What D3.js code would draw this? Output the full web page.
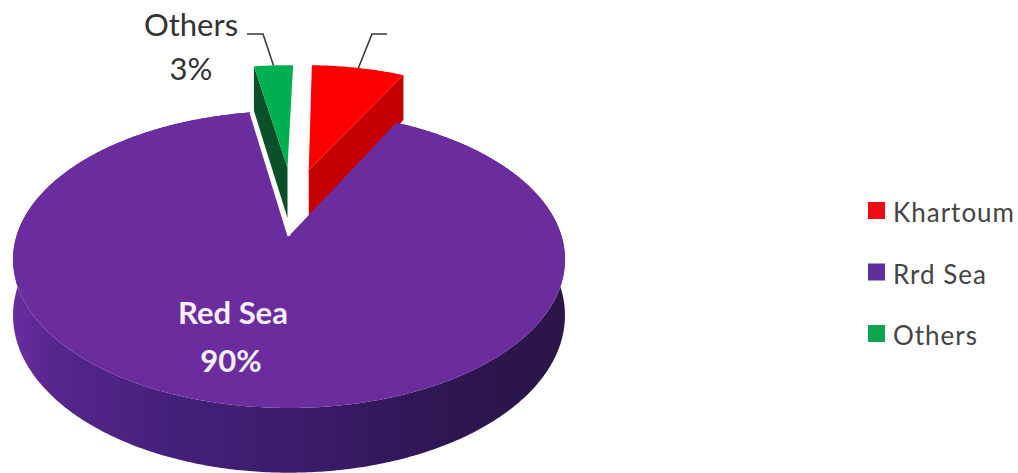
<!DOCTYPE html>
<html>
<head>
<meta charset="utf-8">
<script src="https://cdn.jsdelivr.net/npm/d3@7"></script>
<style>
  html, body { margin: 0; padding: 0; background: #fff; }
  svg { display: block; }
  text { font-family: Lato, "Open Sans", sans-serif; }
</style>
</head>
<body>
<svg id="chart" width="1018" height="473"></svg>
<script>
// Pie shares
const categories = ["Khartoum", "Rrd Sea", "Others"];
const shares = [7, 90, 3];
const colors = ["#FF0000", "#6B2C9E", "#00B050"];
const wallColors = ["#C40000", "#3F1D6E", "#0A5029"];
const legendColors = ["#F00A14", "#5F2F9E", "#0EA552"];

// Pulled-out slices: offset on the disk and radius of each wedge
const explode = new Map([
  ["Khartoum", { dx: 0.078, dy: 0.49, r: 0.96 }],
  ["Others", { dx: -0.006, dy: 0.51, r: 0.94 }],
  ["Rrd Sea", { dx: 0, dy: 0, r: 1 }]
]);

// Perspective of the tilted disk
const cx = 289, cy = 236, persp = 0.158;
const xPx = d3.scaleLinear().domain([0, 1]).range([0, 272.5]);
const yPx = d3.scaleLinear().domain([0, 1]).range([0, 144.8]);
const zPx = d3.scaleLinear().domain([0, 1]).range([0, 54.5]);

function project(X, Y, z) {
  const w = 1 + persp * Y;
  return [cx + xPx(X) / w, cy + (zPx(z) - yPx(Y)) / w];
}

const svg = d3.select("#chart");
const line = d3.line();

// Side wall shading runs left to right across the cylinder
const defs = svg.append("defs");
const wallGrad = defs.append("linearGradient")
  .attr("id", "wall").attr("gradientUnits", "userSpaceOnUse")
  .attr("x1", 13).attr("x2", 565).attr("y1", 0).attr("y2", 0);
[[0, "#6A2D9F"], [0.08, "#55268C"], [0.3, "#44207A"], [0.55, "#3A1B68"], [0.8, "#2D1650"], [1, "#2B1548"]]
  .forEach(([o, c]) => wallGrad.append("stop").attr("offset", o).attr("stop-color", c));

// Slice angles, rotated slightly clockwise from twelve o'clock
const rotate = 1.5 * Math.PI / 180;
const pie = d3.pie().sort(null)
  .startAngle(rotate).endAngle(2 * Math.PI + rotate);
const slices = pie(shares).map((d, i) => ({
  ...d, name: categories[i], color: colors[i], wall: wallColors[i], ex: explode.get(categories[i])
}));

function rimPoint(s, a, z) {
  return project(s.ex.dx + s.ex.r * Math.sin(a), s.ex.dy + s.ex.r * Math.cos(a), z);
}
function rimPoints(s, z) {
  const n = Math.ceil((s.endAngle - s.startAngle) / 0.01);
  return d3.range(n + 1).map(i => rimPoint(s, s.startAngle + (s.endAngle - s.startAngle) * i / n, z));
}
const apex = (s, z) => project(s.ex.dx, s.ex.dy, z);

// The wedge's cut face seen from the front
function cutFace(s, a) {
  return line([apex(s, 0), rimPoint(s, a, 0), rimPoint(s, a, 1), apex(s, 1)]) + "Z";
}

const byName = name => slices.find(s => s.name === name);
const red = byName("Khartoum"), purple = byName("Rrd Sea"), green = byName("Others");

// Back wedges first, the large slice is drawn over them
svg.append("path").attr("d", cutFace(red, red.endAngle)).attr("fill", red.wall);
svg.append("path").attr("d", line([apex(red, 0), ...rimPoints(red, 0)]) + "Z").attr("fill", red.color);

svg.append("path").attr("d", cutFace(green, green.startAngle)).attr("fill", green.wall);
svg.append("path").attr("d", line([apex(green, 0), ...rimPoints(green, 0)]) + "Z").attr("fill", green.color);

// Large slice: outer wall, then top
const topRim = rimPoints(purple, 0);
const lowRim = rimPoints(purple, 1).reverse();
svg.append("path").attr("d", line([...topRim, ...lowRim]) + "Z").attr("fill", "url(#wall)");
svg.append("path").attr("d", line([apex(purple, 0), ...topRim]) + "Z").attr("fill", purple.color);

// Thin light edge beside the green wedge
svg.append("path")
  .attr("d", line([apex(purple, 0), rimPoint(purple, purple.endAngle, 0)]))
  .attr("stroke", "#fff").attr("stroke-width", 3).attr("fill", "none");

// Leader lines
const leader = (pts) => svg.append("path").attr("d", line(pts))
  .attr("fill", "none").attr("stroke", "#3A3A3A").attr("stroke-width", 1.6);
const greenTip = rimPoint(green, (green.startAngle + green.endAngle) / 2, 0);
const redTip = rimPoint(red, (red.startAngle + red.endAngle) / 2, 0);
leader([[247, 34], [263, 34], greenTip]);
leader([[387, 34], [372, 34], redTip]);

// Data labels
const greenLabel = svg.append("g").attr("fill", "#333").attr("text-anchor", "middle")
  .attr("font-size", 31);
greenLabel.append("text").attr("x", 191).attr("y", 36).text(categories[2]);
greenLabel.append("text").attr("x", 191).attr("y", 80).text(shares[2] + "%");

const purpleLabel = svg.append("g").attr("fill", "#F6EEFA").attr("text-anchor", "middle")
  .attr("font-size", 31).attr("font-weight", 700);
purpleLabel.append("text").attr("x", 233).attr("y", 324).text("Red Sea");
purpleLabel.append("text").attr("x", 231).attr("y", 372).text(shares[1] + "%");

// Legend
const legend = svg.append("g");
const rowY = d3.scalePoint().domain(categories).range([211, 334]);
const rows = legend.selectAll("g").data(categories).join("g")
  .attr("transform", d => `translate(868,${rowY(d)})`);
rows.append("rect").attr("x", 0).attr("y", -9).attr("width", 17).attr("height", 17)
  .attr("fill", (d, i) => legendColors[i]);
rows.append("text").attr("x", 25).attr("y", 11).attr("font-size", 26)
  .attr("letter-spacing", 1).attr("fill", "#444").text(d => d);
</script>
</body>
</html>
